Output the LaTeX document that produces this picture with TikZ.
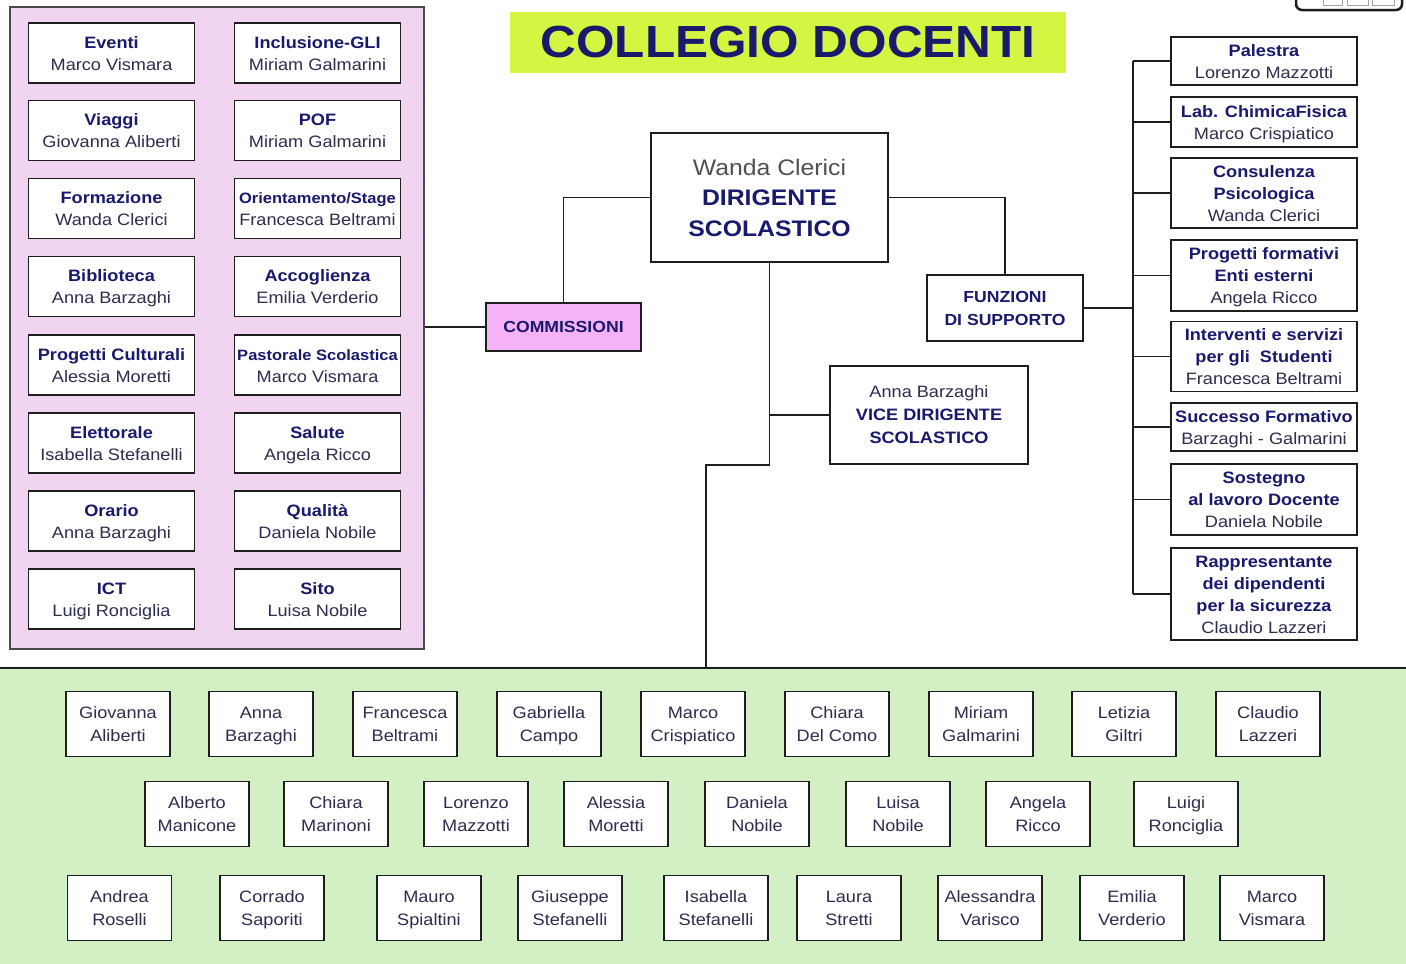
\documentclass[tikz,border=0pt]{standalone}
\usepackage{fontspec}
\setmainfont[FakeStretch=1.1]{Liberation Sans}
\definecolor{navy}{RGB}{25,25,110}
\definecolor{namec}{RGB}{45,45,80}
\definecolor{graytext}{RGB}{80,80,80}
\definecolor{linec}{RGB}{30,30,30}
\definecolor{pinkbg}{RGB}{240,212,240}
\definecolor{pinkbox}{RGB}{245,178,245}
\definecolor{greenbg}{RGB}{210,240,195}
\definecolor{titlebg}{RGB}{212,245,66}
\newcommand\bt[1]{\textbf{\color{navy}#1}}
\newcommand\nm[2]{\rule{0pt}{19.5pt}#1\\\strut#2}
\newcommand\tl{\rule{0pt}{19.5pt}}
\tikzset{
  box/.style={draw=linec, line width=1.8pt, fill=white, inner sep=0pt, align=center, text=namec},
  fnt/.style={font=\fontsize{16.5}{22}\selectfont},
  lbox/.style={box, fnt, minimum width=166, minimum height=60},
  rbox/.style={box, fnt, minimum width=186},
  pbox/.style={box, font=\fontsize{16.5}{23.5}\selectfont, minimum width=104, minimum height=65},
  conn/.style={draw=linec, line width=1.8pt},
}
\begin{document}
\begin{tikzpicture}[x=1pt,y=-1pt]
\useasboundingbox (0,0) rectangle (1406,964);
\clip (0,0) rectangle (1406,964);
\fill[white] (0,0) rectangle (1406,964);

% partial shape top right
\draw[linec, line width=2.5pt, rounded corners=6pt] (1296,-40) rectangle (1402,10);
\draw[gray!70, line width=1pt] (1323,-10) rectangle (1342,5) (1347,-10) rectangle (1368,5) (1372,-10) rectangle (1394,5);

% title
\node[fill=titlebg, minimum width=556, minimum height=61, inner sep=0pt, text=navy, font=\bfseries\fontsize{45}{50}\selectfont] (title) at (788,42.5) {COLLEGIO DOCENTI};

% commissioni panel
\node[draw=linec!80, line width=1.5pt, fill=pinkbg, minimum width=414, minimum height=642, inner sep=0pt] (panel) at (217,328) {};

\node[lbox] (c1) at (111.5,53) {\nm{\bt{Eventi}}{Marco Vismara}};
\node[lbox] (c2) at (317.5,53) {\nm{\bt{Inclusione-GLI}}{Miriam Galmarini}};
\node[lbox] (c3) at (111.5,130.5) {\nm{\bt{Viaggi}}{Giovanna Aliberti}};
\node[lbox] (c4) at (317.5,130.5) {\nm{\bt{POF}}{Miriam Galmarini}};
\node[lbox] (c5) at (111.5,208.5) {\nm{\bt{Formazione}}{Wanda Clerici}};
\node[lbox] (c6) at (317.5,208.5) {\nm{{\fontsize{15}{22}\selectfont\bt{Orientamento/Stage}}}{Francesca Beltrami}};
\node[lbox] (c7) at (111.5,286.5) {\nm{\bt{Biblioteca}}{Anna Barzaghi}};
\node[lbox] (c8) at (317.5,286.5) {\nm{\bt{Accoglienza}}{Emilia Verderio}};
\node[lbox] (c9) at (111.5,365) {\nm{\bt{Progetti Culturali}}{Alessia Moretti}};
\node[lbox] (c10) at (317.5,365) {\nm{{\fontsize{15}{22}\selectfont\bt{Pastorale Scolastica}}}{Marco Vismara}};
\node[lbox] (c11) at (111.5,443) {\nm{\bt{Elettorale}}{Isabella Stefanelli}};
\node[lbox] (c12) at (317.5,443) {\nm{\bt{Salute}}{Angela Ricco}};
\node[lbox] (c13) at (111.5,521) {\nm{\bt{Orario}}{Anna Barzaghi}};
\node[lbox] (c14) at (317.5,521) {\nm{\bt{Qualit\`a}}{Daniela Nobile}};
\node[lbox] (c15) at (111.5,599) {\nm{\bt{ICT}}{Luigi Ronciglia}};
\node[lbox] (c16) at (317.5,599) {\nm{\bt{Sito}}{Luisa Nobile}};

% central nodes
\node[box, fill=pinkbox, minimum width=155, minimum height=48, font=\bfseries\fontsize{16}{22}\selectfont, text=navy] (com) at (563.5,327) {COMMISSIONI};
\node[box, minimum width=237, minimum height=129, font=\fontsize{22.5}{30.5}\selectfont] (dir) at (769.5,197.5) {{\color{graytext}Wanda Clerici}\\\bt{DIRIGENTE}\\\bt{SCOLASTICO}};
\node[box, minimum width=156, minimum height=66, font=\bfseries\fontsize{16}{23}\selectfont, text=navy] (fz) at (1005,308) {FUNZIONI\\DI SUPPORTO};
\node[box, minimum width=198, minimum height=98, font=\fontsize{16.5}{23}\selectfont] (vice) at (929,415) {Anna Barzaghi\\\bt{VICE DIRIGENTE}\\\bt{SCOLASTICO}};

% right column
\node[rbox, minimum height=48] (r1) at (1264,61) {\nm{\bt{Palestra}}{Lorenzo Mazzotti}};
\node[rbox, minimum height=50] (r2) at (1264,122) {\nm{\bt{Lab. ChimicaFisica}}{Marco Crispiatico}};
\node[rbox, minimum height=66] (r3) at (1264,193) {\tl\bt{Consulenza}\\\strut\bt{Psicologica}\\\strut Wanda Clerici};
\node[rbox, minimum height=71] (r4) at (1264,275.5) {\tl\bt{Progetti formativi}\\\strut\bt{Enti esterni}\\\strut Angela Ricco};
\node[rbox, minimum height=65] (r5) at (1264,356.5) {\tl\bt{Interventi e servizi}\\\strut\bt{per gli \ Studenti}\\\strut Francesca Beltrami};
\node[rbox, minimum height=48] (r6) at (1264,427) {\nm{\bt{Successo Formativo}}{Barzaghi - Galmarini}};
\node[rbox, minimum height=71] (r7) at (1264,499.5) {\tl\bt{Sostegno}\\\strut\bt{al lavoro Docente}\\\strut Daniela Nobile};
\node[rbox, minimum height=92] (r8) at (1264,594) {\tl\bt{Rappresentante}\\\strut\bt{dei dipendenti}\\\strut\bt{per la sicurezza}\\\strut Claudio Lazzeri};

% green panel
\node[draw=linec, line width=1.8pt, fill=greenbg, minimum width=1416, minimum height=310, inner sep=0pt, anchor=north west] (gp) at (-5,667) {};

\node[pbox] (p1) at (118,724) {\nm{Giovanna}{Aliberti}};
\node[pbox] (p2) at (261,724) {\nm{Anna}{Barzaghi}};
\node[pbox] (p3) at (405,724) {\nm{Francesca}{Beltrami}};
\node[pbox] (p4) at (549,724) {\nm{Gabriella}{Campo}};
\node[pbox] (p5) at (693,724) {\nm{Marco}{Crispiatico}};
\node[pbox] (p6) at (837,724) {\nm{Chiara}{Del Como}};
\node[pbox] (p7) at (981,724) {\nm{Miriam}{Galmarini}};
\node[pbox] (p8) at (1124,724) {\nm{Letizia}{Giltri}};
\node[pbox] (p9) at (1268,724) {\nm{Claudio}{Lazzeri}};

\node[pbox] (p10) at (197,814) {\nm{Alberto}{Manicone}};
\node[pbox] (p11) at (336,814) {\nm{Chiara}{Marinoni}};
\node[pbox] (p12) at (476,814) {\nm{Lorenzo}{Mazzotti}};
\node[pbox] (p13) at (616,814) {\nm{Alessia}{Moretti}};
\node[pbox] (p14) at (757,814) {\nm{Daniela}{Nobile}};
\node[pbox] (p15) at (898,814) {\nm{Luisa}{Nobile}};
\node[pbox] (p16) at (1038,814) {\nm{Angela}{Ricco}};
\node[pbox] (p17) at (1186,814) {\nm{Luigi}{Ronciglia}};

\node[pbox] (p18) at (119.5,908) {\nm{Andrea}{Roselli}};
\node[pbox] (p19) at (272,908) {\nm{Corrado}{Saporiti}};
\node[pbox] (p20) at (429,908) {\nm{Mauro}{Spialtini}};
\node[pbox] (p21) at (570,908) {\nm{Giuseppe}{Stefanelli}};
\node[pbox] (p22) at (716,908) {\nm{Isabella}{Stefanelli}};
\node[pbox] (p23) at (849,908) {\nm{Laura}{Stretti}};
\node[pbox] (p24) at (990,908) {\nm{Alessandra}{Varisco}};
\node[pbox] (p25) at (1132,908) {\nm{Emilia}{Verderio}};
\node[pbox] (p26) at (1272,908) {\nm{Marco}{Vismara}};

% connectors
\coordinate (busx) at (1133,0);
\coordinate (drop) at (706,667);
\draw[conn] (com.west) -- (com.west -| panel.east);
\draw[conn] (dir.west) -| (com.north);
\draw[conn] (dir.east) -| (fz.north);
\draw[conn] (fz.east) -- (fz.east -| busx);
\draw[conn] (r1.west -| busx) -- (r8.west -| busx);
\foreach \r in {r1,r2,r3,r4,r5,r6,r7,r8}
  \draw[conn] (\r.west) -- (\r.west -| busx);
\draw[conn] (dir.south) -- (dir.south |- vice.south) -| (drop);
\draw[conn] (vice.west) -- (vice.west -| dir.south);
\end{tikzpicture}
\end{document}
